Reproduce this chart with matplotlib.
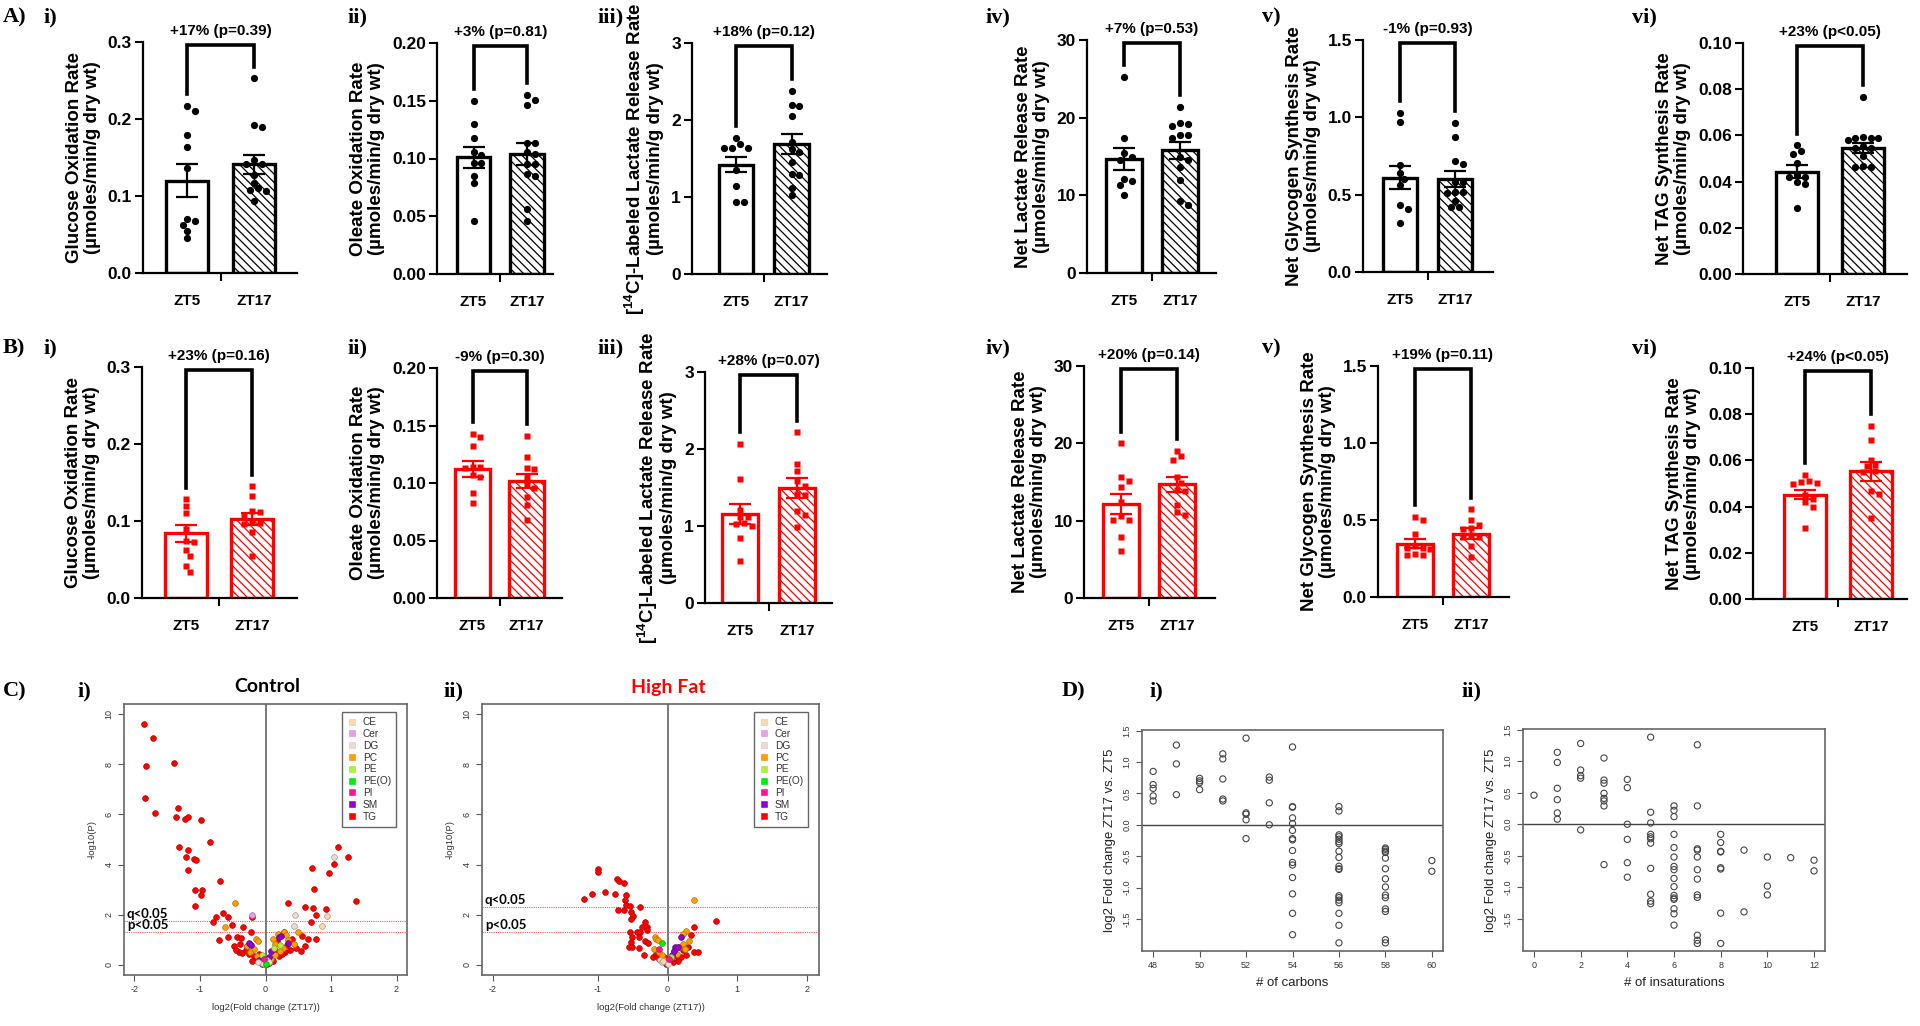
import numpy as np
import matplotlib.pyplot as plt
from matplotlib.lines import Line2D
from matplotlib.colors import to_rgb

plt.rcParams['font.family'] = ['Liberation Sans', 'DejaVu Sans']
plt.rcParams['mathtext.fontset'] = 'custom'
plt.rcParams['mathtext.rm'] = 'Liberation Sans:bold'
plt.rcParams['mathtext.bf'] = 'Liberation Sans:bold'
plt.rcParams['hatch.linewidth'] = 0.9

W, H = 1920, 1026

# ---------------- bar panels (A: control, B: high fat) ----------------
groups = ['ZT5', 'ZT17']
bar_ylabels = ['Glucose Oxidation Rate', 'Oleate Oxidation Rate',
               r'[$^{14}$C]-Labeled Lactate Release Rate', 'Net Lactate Release Rate',
               'Net Glycogen Synthesis Rate', 'Net TAG Synthesis Rate']
unit_label = '(\u00b5moles/min/g dry wt)'
bar_ymax = [0.3, 0.2, 3, 30, 1.5, 0.1]
bar_yticks = [[0, 0.1, 0.2, 0.3], [0, 0.05, 0.10, 0.15, 0.20], [0, 1, 2, 3],
              [0, 10, 20, 30], [0, 0.5, 1.0, 1.5], [0, 0.02, 0.04, 0.06, 0.08, 0.10]]
bar_fmt = ['{:.1f}', '{:.2f}', '{:.0f}', '{:.0f}', '{:.1f}', '{:.2f}']
roman = ['i)', 'ii)', 'iii)', 'iv)', 'v)', 'vi)']

ctrl_notes = ['+17% (p=0.39)', '+3% (p=0.81)', '+18% (p=0.12)',
              '+7% (p=0.53)', '-1% (p=0.93)', '+23% (p<0.05)']
ctrl_mean = [[0.120, 0.141], [0.101, 0.104], [1.42, 1.69], [14.7, 15.8], [0.61, 0.60], [0.0443, 0.0545]]
ctrl_sem = [[0.021, 0.012], [0.009, 0.0097], [0.10, 0.13], [1.4, 1.1], [0.075, 0.05], [0.0029, 0.0023]]
ctrl_zt5 = [
    [0.217, 0.211, 0.179, 0.164, 0.136, 0.070, 0.068, 0.062, 0.054, 0.045],
    [0.150, 0.130, 0.118, 0.106, 0.103, 0.096, 0.096, 0.085, 0.079, 0.046],
    [1.77, 1.69, 1.64, 1.64, 1.64, 1.35, 1.14, 0.94, 0.94],
    [25.3, 17.4, 15.4, 15.0, 14.6, 12.1, 11.9, 11.3, 10.0],
    [1.03, 0.97, 0.69, 0.64, 0.60, 0.56, 0.43, 0.41, 0.32],
    [0.0558, 0.0532, 0.0519, 0.0479, 0.0430, 0.0422, 0.0422, 0.0400, 0.0390, 0.0285],
]
ctrl_zt17 = [
    [0.253, 0.192, 0.189, 0.147, 0.142, 0.142, 0.127, 0.117, 0.110, 0.108, 0.107, 0.094],
    [0.155, 0.151, 0.146, 0.113, 0.113, 0.106, 0.104, 0.095, 0.095, 0.087, 0.085, 0.056, 0.046],
    [2.38, 2.19, 2.18, 2.05, 1.72, 1.62, 1.59, 1.46, 1.30, 1.29, 1.12, 1.03],
    [21.4, 19.3, 19.2, 18.9, 17.8, 17.8, 17.4, 15.0, 14.5, 13.7, 12.0, 9.3, 8.7],
    [0.965, 0.87, 0.72, 0.70, 0.58, 0.58, 0.52, 0.51, 0.52, 0.46, 0.42, 0.42],
    [0.0767, 0.0587, 0.0588, 0.0594, 0.0587, 0.0580, 0.0544, 0.0552, 0.0544, 0.0465, 0.0468, 0.0465, 0.0510],
]

hf_notes = ['+23% (p=0.16)', '-9% (p=0.30)', '+28% (p=0.07)',
            '+20% (p=0.14)', '+19% (p=0.11)', '+24% (p<0.05)']
hf_mean = [[0.084, 0.103], [0.112, 0.102], [1.16, 1.49], [12.2, 14.7], [0.345, 0.41], [0.0451, 0.0552]]
hf_sem = [[0.011, 0.008], [0.007, 0.006], [0.13, 0.13], [1.3, 1.0], [0.03, 0.035], [0.002, 0.004]]
hf_zt5 = [
    [0.128, 0.119, 0.110, 0.090, 0.074, 0.073, 0.062, 0.055, 0.042, 0.034],
    [0.143, 0.140, 0.132, 0.114, 0.114, 0.113, 0.107, 0.105, 0.091, 0.083],
    [2.07, 1.61, 1.21, 1.12, 1.12, 1.04, 1.02, 1.00, 0.84, 0.54],
    [20.0, 15.6, 15.1, 14.4, 12.4, 10.6, 10.1, 10.1, 7.9, 6.1],
    [0.52, 0.50, 0.41, 0.33, 0.32, 0.32, 0.31, 0.28, 0.27, 0.27],
    [0.0538, 0.0511, 0.0507, 0.0502, 0.0499, 0.0450, 0.0434, 0.0420, 0.0400, 0.0309],
]
hf_zt17 = [
    [0.145, 0.133, 0.113, 0.112, 0.108, 0.100, 0.097, 0.096, 0.086, 0.055],
    [0.141, 0.123, 0.113, 0.112, 0.105, 0.098, 0.096, 0.088, 0.081, 0.068],
    [2.22, 1.81, 1.71, 1.58, 1.52, 1.42, 1.40, 1.19, 1.14, 0.99],
    [19.0, 18.3, 17.8, 15.6, 14.9, 14.0, 13.8, 12.0, 11.1, 10.7],
    [0.57, 0.50, 0.47, 0.45, 0.44, 0.40, 0.39, 0.39, 0.33, 0.26],
    [0.0750, 0.0688, 0.0603, 0.0580, 0.0574, 0.0552, 0.0548, 0.0468, 0.0454, 0.0350],
]

# ---------------- volcano plots (C) ----------------
lipid_classes = ['CE', 'Cer', 'DG', 'PC', 'PE', 'PE(O)', 'PI', 'SM', 'TG']
lipid_colors = ['#FFD8B0', '#E8A0E8', '#E8DED6', '#FFA000', '#B0F040', '#00F000', '#FF1493', '#9000D0', '#FF0000']
p_cut = 1.301
ctrl_q_cut = 1.74
hf_q_cut = 2.31

ctrl_tg = [(-1.86, 9.59), (-1.71, 9.05), (-1.82, 7.91), (-1.84, 6.67), (-1.68, 6.07), (-1.39, 8.05),
           (-1.34, 6.24), (-1.37, 5.88), (-1.23, 5.83), (-1.18, 5.88), (-0.99, 5.76), (-1.32, 4.71),
           (-1.19, 4.57), (-1.21, 4.31), (-1.09, 4.24), (-1.06, 4.17), (-1.18, 3.77), (-0.84, 4.89),
           (-0.69, 3.35), (-1.08, 2.97), (-0.97, 3.00), (-0.99, 2.80), (-1.07, 2.35), (-0.65, 2.08),
           (-0.76, 1.91), (-0.57, 1.91), (-0.80, 1.71), (-0.51, 1.61), (-0.34, 1.51), (-0.21, 1.91),
           (-0.22, 1.30), (-0.71, 1.00), (-0.57, 1.11), (-0.43, 1.13), (-0.48, 0.75), (-0.39, 0.84),
           (-0.37, 1.07), (-0.41, 0.51), (-0.45, 0.60), (-0.36, 0.47), (-0.30, 0.60), (-0.25, 0.45),
           (-0.18, 0.35), (-0.15, 0.20), (-0.12, 0.30), (-0.08, 0.12), (-0.05, 0.05), (-0.20, 0.15),
           (-0.10, 0.45), (-0.28, 0.75), (1.38, 5.67), (1.11, 4.72), (1.05, 4.03), (1.26, 4.29),
           (0.71, 3.88), (0.97, 3.68), (0.74, 3.01), (1.38, 2.53), (0.35, 2.48), (0.61, 2.31),
           (0.72, 2.28), (0.93, 2.23), (0.77, 2.01), (0.69, 1.73), (0.55, 1.17), (0.41, 1.04),
           (0.65, 1.04), (0.77, 1.04), (0.61, 0.77), (0.46, 0.67), (0.54, 0.57), (0.37, 0.61),
           (0.28, 1.30), (0.30, 0.50), (0.20, 0.35), (0.12, 0.15), (0.05, 0.06), (0.08, 0.25),
           (0.15, 0.60), (0.25, 0.45), (0.18, 0.95), (0.10, 0.55), (0.33, 0.80), (0.02, 0.02)]
ctrl_pc = [(-0.46, 2.48), (-0.62, 1.53), (-0.14, 1.05), (-0.12, 0.95), (-0.28, 0.77), (-0.18, 0.65),
           (-0.23, 0.50), (-0.13, 0.35), (-0.07, 0.25), (0.12, 1.05), (0.14, 0.85), (0.19, 1.25),
           (0.29, 1.33), (0.31, 1.20), (0.50, 1.33), (0.44, 0.85), (0.26, 0.68), (0.15, 0.40),
           (0.09, 0.25), (0.04, 0.12), (-0.04, 0.15), (0.22, 0.55), (0.35, 1.00), (-0.02, 0.05)]
ctrl_sm = [(-0.25, 0.88), (-0.22, 0.80), (0.21, 1.10), (0.24, 1.14), (0.35, 0.87), (0.09, 0.55),
           (-0.10, 0.20), (0.05, 0.30)]
ctrl_pe = [(-0.06, 0.41), (0.13, 0.67), (0.22, 0.80), (0.03, 0.20)]
ctrl_dg = [(1.04, 4.32), (0.45, 2.00), (0.44, 1.55), (-0.05, 0.08), (0.06, 0.10), (-0.12, 0.10)]
ctrl_ce = [(0.94, 1.95), (0.86, 1.55)]
ctrl_cer = [(-0.20, 2.01)]
ctrl_pi = [(-0.02, 0.22)]
ctrl_peo = [(0.00, 0.05)]

hf_tg = [(-0.99, 3.81), (-0.99, 3.71), (-0.72, 3.44), (-0.70, 3.35), (-0.63, 3.27), (-1.13, 2.61),
         (-1.05, 2.83), (-0.90, 2.91), (-0.75, 2.83), (-0.59, 2.80), (-0.61, 2.57), (-0.59, 2.37),
         (-0.54, 2.33), (-0.39, 2.31), (-0.71, 2.20), (-0.62, 2.20), (-0.53, 2.11), (-0.49, 1.97),
         (-0.53, 1.84), (-0.32, 1.73), (-0.36, 1.51), (-0.30, 1.53), (-0.30, 1.40), (-0.54, 1.33),
         (-0.43, 1.31), (-0.40, 1.33), (-0.51, 1.13), (-0.41, 1.11), (-0.32, 0.97), (-0.28, 0.87),
         (-0.53, 0.91), (-0.55, 0.73), (-0.51, 0.71), (-0.41, 0.68), (-0.34, 0.41), (-0.21, 0.31),
         (-0.17, 0.45), (-0.12, 0.25), (-0.08, 0.15), (-0.05, 0.30), (-0.02, 0.05), (0.70, 1.75),
         (0.38, 1.51), (0.34, 1.21), (0.38, 0.51), (0.43, 0.51), (0.26, 0.41), (0.20, 0.30),
         (0.15, 0.15), (0.08, 0.10), (0.12, 0.35), (0.22, 0.60), (0.05, 0.20), (0.30, 0.70)]
hf_pc = [(0.38, 2.57), (0.27, 1.35), (0.22, 1.24), (0.31, 0.97), (0.22, 0.84), (-0.18, 1.13),
         (-0.16, 1.04), (-0.13, 1.00), (-0.20, 0.65), (-0.12, 0.52), (-0.08, 0.40), (0.10, 0.55),
         (0.17, 0.70), (0.25, 0.65), (0.05, 0.30), (-0.03, 0.20), (0.14, 0.45)]
hf_sm = [(0.19, 1.13), (0.11, 0.71), (0.15, 0.72), (0.06, 0.40), (0.09, 0.55)]
hf_peo = [(-0.08, 0.88)]
hf_pi = [(-0.12, 0.65), (0.02, 0.25)]
hf_dg = [(-0.11, 0.18), (-0.08, 0.12), (0.00, 0.05)]
hf_pe = [(0.05, 0.33)]
hf_ce = [(-0.06, 0.15)]

# ---------------- TG fold change vs chain composition (D) ----------------
fc_by_carbons = {
    48: [0.85, 0.64, 0.58, 0.46, 0.38],
    49: [1.27, 0.97, 0.48],
    50: [0.74, 0.70, 0.67, 0.56],
    51: [1.13, 1.05, 0.73, 0.41, 0.38],
    52: [1.38, 0.19, 0.17, 0.08, -0.22],
    53: [0.76, 0.71, 0.35, 0.00],
    54: [1.24, 0.29, 0.28, 0.11, 0.02, -0.09, -0.22, -0.24, -0.41, -0.60, -0.64, -0.84, -1.10, -1.41, -1.75],
    56: [0.29, 0.22, -0.16, -0.19, -0.23, -0.27, -0.30, -0.42, -0.52, -0.66, -0.70, -0.71, -1.13, -1.16,
         -1.20, -1.24, -1.41, -1.60, -1.88],
    58: [-0.37, -0.39, -0.42, -0.44, -0.53, -0.70, -0.86, -0.99, -1.12, -1.16, -1.34, -1.38, -1.83, -1.88],
    60: [-0.57, -0.74],
}
fc_by_unsat = {
    0: [0.46],
    1: [1.14, 0.98, 0.57, 0.39, 0.18, 0.08],
    2: [1.28, 0.86, 0.77, 0.73, -0.09],
    3: [1.05, 0.70, 0.65, 0.49, 0.41, 0.37, 0.29, -0.64],
    4: [0.71, 0.58, 0.00, -0.24, -0.61, -0.84],
    5: [1.38, 0.19, 0.02, -0.16, -0.20, -0.23, -0.30, -0.70, -1.11, -1.22, -1.26],
    6: [0.29, 0.22, 0.12, -0.16, -0.37, -0.52, -0.67, -0.72, -0.86, -0.99, -1.13, -1.17, -1.19, -1.34,
        -1.42, -1.60],
    7: [1.26, 0.29, -0.39, -0.41, -0.52, -0.72, -0.87, -1.12, -1.16, -1.76, -1.84, -1.89],
    8: [-0.16, -0.29, -0.43, -0.44, -0.69, -0.71, -1.41, -1.89],
    9: [-0.41, -1.39],
    10: [-0.52, -0.98, -1.12],
    11: [-0.53],
    12: [-0.57, -0.74],
}


def px_axes(fig, l, t, r, b):
    return fig.add_axes([l / W, 1 - b / H, (r - l) / W, (b - t) / H])


def swarm(vals, ymax, h_px, step_px, d_px=7.0):
    # simple beeswarm: spread points sideways so they don't overlap
    y = np.asarray(vals, float) / ymax * h_px
    off = np.zeros(len(y))
    placed = []
    for i in np.argsort(-y):
        for k in [0, 1, -1, 2, -2, 3, -3, 4, -4, 5, -5]:
            x = k * d_px * 0.55
            if all((x - px) ** 2 + (y[i] - py) ** 2 >= (d_px * 0.92) ** 2 for px, py in placed):
                break
        placed.append((x, y[i]))
        off[i] = x / step_px
    return off


def bar_panel(fig, box, centers, k, zt5, zt17, means, sems, note, color, marker):
    l, t, r, b = box
    ax = px_axes(fig, l, t, r, b)
    s = centers[1] - centers[0]
    ax.set_xlim((l - centers[0]) / s, (r - centers[0]) / s)
    ymax = bar_ymax[k]
    ax.set_ylim(0, ymax)
    pts = [zt5, zt17]
    for j in range(2):
        ax.bar(j, means[j], 0.63, facecolor='white', edgecolor=color, linewidth=2.4,
               hatch=None if j == 0 else '\\\\\\\\', zorder=2)
        off = swarm(pts[j], ymax, b - t, s)
        ax.plot(j + off, pts[j], ls='none', marker=marker, ms=5.2 if marker == 'o' else 4.8,
                color=color, mec='none', zorder=3, clip_on=False)
        ax.errorbar(j, means[j], yerr=sems[j], color=color, lw=1.6, capsize=8, capthick=1.6, zorder=4)
    top = ymax * 0.985
    legs = [max(p) + 0.05 * ymax for p in pts]
    ax.plot([0, 0, 1, 1], [legs[0], top, top, legs[1]], color='black', lw=2.6,
            clip_on=False, solid_joinstyle='miter', zorder=5)
    ax.annotate(note, (0.5, ymax), xytext=(0, 8), textcoords='offset points',
                ha='center', va='center', fontsize=11, fontweight='bold')
    ax.set_yticks(bar_yticks[k])
    ax.set_yticklabels([bar_fmt[k].format(v) for v in bar_yticks[k]])
    ax.set_xticks([0, 1])
    ax.set_xticklabels(groups)
    ax.set_xticks([0.5], minor=True)
    ax.tick_params(axis='x', which='major', length=0, pad=15, labelsize=11)
    ax.tick_params(axis='x', which='minor', length=6, width=1.5, direction='out')
    ax.tick_params(axis='y', length=6, width=1.5, labelsize=12.5, pad=2)
    for lab in ax.get_xticklabels() + ax.get_yticklabels():
        lab.set_fontweight('bold')
    for sp in ['top', 'right']:
        ax.spines[sp].set_visible(False)
    for sp in ['left', 'bottom']:
        ax.spines[sp].set_linewidth(1.6)
    ax.set_ylabel(bar_ylabels[k] + '\n' + unit_label, fontsize=13.5, fontweight='bold',
                  labelpad=5, linespacing=1.05)
    return ax


def darker(c, f=0.7):
    return tuple(v * f for v in to_rgb(c))


def stretch_fwd(x):
    x = np.asarray(x, float)
    return np.where(x < -1, -1 + (x + 1) * 1.5, x)


def stretch_inv(u):
    u = np.asarray(u, float)
    return np.where(u < -1, -1 + (u + 1) / 1.5, u)


def volcano(fig, box, xlim, sets, q_cut, title, title_color, title_x, stretched=False):
    l, t, r, b = box
    ax = px_axes(fig, l, t, r, b)
    if stretched:
        ax.set_xscale('function', functions=(stretch_fwd, stretch_inv))
    ax.set_xlim(*xlim)
    ax.set_ylim(-0.4, 10.4)
    ax.axvline(0, color='#555555', lw=1.1, zorder=1)
    for yl in (p_cut, q_cut):
        ax.axhline(yl, color='#FF5050', lw=0.8, ls=(0, (1, 1)), zorder=1)
    for cls, pts in sets:
        c = lipid_colors[lipid_classes.index(cls)]
        xy = np.array(pts)
        ax.scatter(xy[:, 0], xy[:, 1], s=17, color=c, edgecolors=[darker(c)], linewidths=0.5, zorder=3)
    ax.annotate('q<0.05', (0, q_cut), xycoords=('axes fraction', 'data'), xytext=(2, 1),
                textcoords='offset points', fontsize=9.5, fontweight='bold',
                family=['Lato', 'DejaVu Sans'], va='bottom', ha='left')
    ax.annotate('p<0.05', (0, p_cut), xycoords=('axes fraction', 'data'), xytext=(2, 1),
                textcoords='offset points', fontsize=9.5, fontweight='bold',
                family=['Lato', 'DejaVu Sans'], va='bottom', ha='left')
    ax.set_xticks([-2, -1, 0, 1, 2])
    ax.set_xticklabels(['-2', '-1', '0', '1', '2'])
    ax.minorticks_off()
    ax.set_yticks([0, 2, 4, 6, 8, 10])
    ax.set_yticklabels(['0', '2', '4', '6', '8', '10'], rotation=90, va='center')
    ax.tick_params(labelsize=6.5, length=4, width=0.8, color='#555555', labelcolor='#333333')
    for sp in ax.spines.values():
        sp.set_color('#666666')
        sp.set_linewidth(1.2)
    ax.set_xlabel('log2(Fold change (ZT17))', fontsize=6.8, color='#333333', labelpad=6)
    ax.set_ylabel('-log10(P)', fontsize=6.8, color='#333333', labelpad=6)
    handles = [Line2D([], [], ls='none', marker='s', ms=5, mfc=c, mec=darker(c, 0.9), mew=0.4)
               for c in lipid_colors]
    leg = ax.legend(handles, lipid_classes, loc='upper right', bbox_to_anchor=(1 - 11 / (r - l), 1 - 8 / (b - t)),
                    borderaxespad=0, fontsize=7.3, handlelength=1.0, handletextpad=0.6, labelspacing=0.18,
                    borderpad=0.5, fancybox=False, framealpha=1)
    leg.get_frame().set_edgecolor('#666666')
    leg.get_frame().set_linewidth(1.0)
    for txt in leg.get_texts():
        txt.set_color('#333333')
    fig.text(title_x / W, 1 - 687 / H, title, color=title_color, fontsize=14, fontweight='bold',
             family=['Lato', 'DejaVu Sans'], ha='center', va='center')
    return ax


def chain_panel(fig, box, groups_fc, xlim, xticks, xlabel, ylabel):
    l, t, r, b = box
    ax = px_axes(fig, l, t, r, b)
    for xv, ys in groups_fc.items():
        ax.scatter([xv] * len(ys), ys, s=20, facecolors='none', edgecolors='#444444', linewidths=0.8)
    ax.axhline(0, color='#444444', lw=1.0)
    ax.set_xlim(*xlim)
    ax.set_ylim(-2.01, 1.51)
    ax.set_xticks(xticks)
    yt = [-1.5, -1.0, -0.5, 0.0, 0.5, 1.0, 1.5]
    ax.set_yticks(yt)
    ax.set_yticklabels(['{:.1f}'.format(v) for v in yt], rotation=90, va='center')
    ax.tick_params(labelsize=6.5, length=4, width=0.8, color='#555555', labelcolor='#333333')
    for sp in ax.spines.values():
        sp.set_color('#666666')
        sp.set_linewidth(1.2)
    ax.set_xlabel(xlabel, fontsize=9.5, color='#222222', labelpad=5)
    if ylabel:
        ax.set_ylabel(ylabel, fontsize=9.5, color='#222222', labelpad=5)
    return ax


fig = plt.figure(figsize=(W / 100, H / 100), dpi=100)
fig.patch.set_facecolor('white')

ctrl_boxes = [(143, 42, 297, 273), (437, 43, 553, 274), (692, 43, 827, 274),
              (1087, 40, 1216, 273), (1363, 40, 1493, 272), (1743, 43, 1907, 274)]
ctrl_centers = [(187, 254), (473.5, 527), (736, 791.5), (1124, 1180), (1400, 1455), (1797, 1863)]
hf_boxes = [(142, 367, 297, 598), (437, 368, 562, 598), (705, 372, 832, 603),
            (1084, 366, 1215, 598), (1378, 366, 1509, 597), (1753, 368, 1907, 599)]
hf_centers = [(186, 252), (472.5, 526.5), (740, 797), (1121, 1177), (1415, 1471), (1805, 1871)]

for k in range(6):
    bar_panel(fig, ctrl_boxes[k], ctrl_centers[k], k, ctrl_zt5[k], ctrl_zt17[k],
              ctrl_mean[k], ctrl_sem[k], ctrl_notes[k], 'black', 'o')
    bar_panel(fig, hf_boxes[k], hf_centers[k], k, hf_zt5[k], hf_zt17[k],
              hf_mean[k], hf_sem[k], hf_notes[k], '#FF0000', 's')

volcano(fig, (124, 704, 407, 975), (-2.16, 2.16),
        [('TG', ctrl_tg), ('PC', ctrl_pc), ('SM', ctrl_sm), ('PE', ctrl_pe), ('DG', ctrl_dg),
         ('CE', ctrl_ce), ('Cer', ctrl_cer), ('PI', ctrl_pi), ('PE(O)', ctrl_peo)],
        ctrl_q_cut, 'Control', 'black', 267)
volcano(fig, (482, 704, 819, 975), (-2.105, 2.17),
        [('TG', hf_tg), ('PC', hf_pc), ('SM', hf_sm), ('PE', hf_pe), ('DG', hf_dg),
         ('CE', hf_ce), ('PI', hf_pi), ('PE(O)', hf_peo)],
        hf_q_cut, 'High Fat', '#FF0000', 668, stretched=True)

chain_panel(fig, (1142, 730, 1443, 951), fc_by_carbons, (47.52, 60.48), range(48, 61, 2),
            '# of carbons', 'log2 Fold change ZT17 vs. ZT5')
chain_panel(fig, (1523, 729, 1825, 951), fc_by_unsat, (-0.47, 12.47), range(0, 13, 2),
            '# of insaturations', 'log2 Fold change ZT17 vs. ZT5')

# panel letters
serif = dict(family=['Liberation Serif', 'DejaVu Serif'], fontweight='bold', fontsize=16, va='center')
for lab, x, y in [('A)', 3, 17), ('B)', 3, 348), ('C)', 3, 691), ('D)', 1062, 691)]:
    fig.text(x / W, 1 - y / H, lab, **serif)
for k, x in enumerate([43, 347, 598, 985, 1262, 1632]):
    fig.text(x / W, 1 - 17 / H, roman[k], **serif)
    fig.text(x / W, 1 - 348 / H, roman[k], **serif)
for lab, x in [('i)', 77), ('ii)', 443), ('i)', 1150), ('ii)', 1462)]:
    fig.text(x / W, 1 - 691 / H, lab, **serif)

fig.savefig('out.png', dpi=100, facecolor='white')
